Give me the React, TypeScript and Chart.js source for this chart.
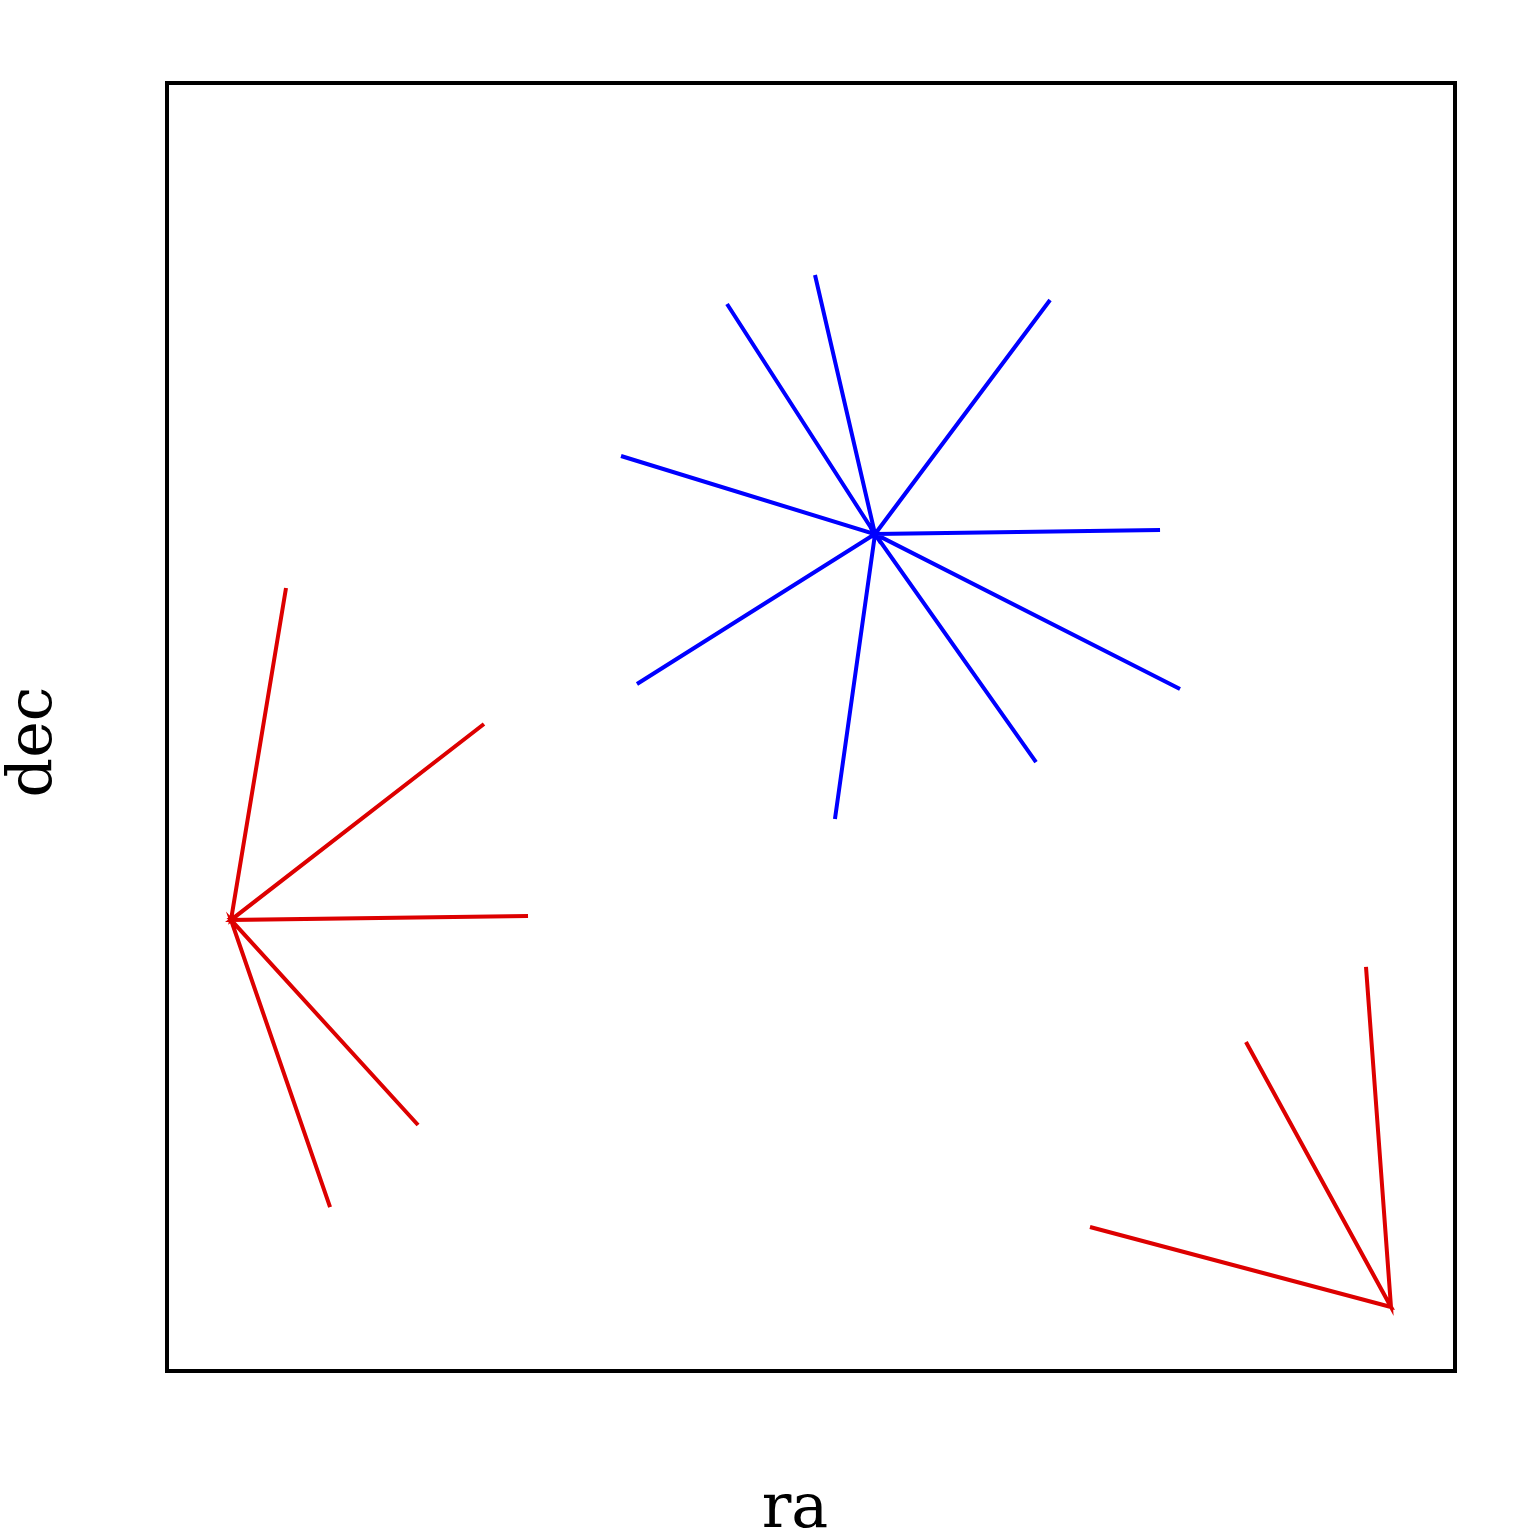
import React, { useEffect, useRef } from "react";
import { Chart, registerables } from "chart.js";

Chart.register(...registerables);

// Star 1 (red, left)
const redACenter = { x: 4.97, y: 35.02 };
const redAEnds = [
  { x: 9.24, y: 60.79 },
  { x: 24.61, y: 50.23 },
  { x: 28.03, y: 35.33 },
  { x: 19.49, y: 19.1 },
  { x: 12.66, y: 12.73 },
];

// Star 2 (blue, centre)
const blueCenter = { x: 54.97, y: 64.98 };
const blueEnds = [
  { x: 50.31, y: 85.09 },
  { x: 43.48, y: 82.84 },
  { x: 68.56, y: 83.15 },
  { x: 35.25, y: 71.04 },
  { x: 77.1, y: 65.3 },
  { x: 78.65, y: 52.95 },
  { x: 67.47, y: 47.28 },
  { x: 51.86, y: 42.86 },
  { x: 36.49, y: 53.34 },
];

// Star 3 (red, lower right)
const redBCenter = { x: 95.03, y: 4.97 };
const redBEnds = [
  { x: 93.09, y: 31.37 },
  { x: 83.77, y: 25.54 },
  { x: 71.66, y: 11.18 },
];

const xTitle = "ra";
const yTitle = "dec";

function starPath(c: { x: number; y: number }, ends: { x: number; y: number }[]) {
  const pts: { x: number; y: number }[] = [];
  ends.forEach((e) => {
    pts.push(c);
    pts.push(e);
  });
  pts.push(c);
  return pts;
}

const framePlugin = {
  id: "frame",
  afterDraw(chart: any) {
    const { ctx, chartArea } = chart;
    ctx.save();
    ctx.strokeStyle = "#000";
    ctx.lineWidth = 4;
    ctx.strokeRect(chartArea.left, chartArea.top, chartArea.right - chartArea.left, chartArea.bottom - chartArea.top);
    ctx.fillStyle = "#000";
    ctx.font = "62px 'DejaVu Serif', serif";
    ctx.textAlign = "center";
    ctx.textBaseline = "alphabetic";
    ctx.fillText(xTitle, 795, 1527);
    ctx.translate(51, 742);
    ctx.rotate(-Math.PI / 2);
    ctx.fillText(yTitle, 0, 0);
    ctx.restore();
  },
};

export default function App() {
  const ref = useRef<HTMLCanvasElement>(null);
  useEffect(() => {
    if (!ref.current) return;
    const mk = (c: any, e: any[], color: string) => ({
      data: starPath(c, e),
      showLine: true,
      borderColor: color,
      backgroundColor: color,
      borderWidth: 4,
      pointRadius: 0,
      tension: 0,
      borderJoinStyle: "miter" as const,
    });
    const chart = new Chart(ref.current, {
      type: "scatter",
      data: {
        datasets: [
          mk(redACenter, redAEnds, "#dd0000"),
          mk(blueCenter, blueEnds, "#0000ff"),
          mk(redBCenter, redBEnds, "#dd0000"),
        ],
      },
      options: {
        animation: false,
        responsive: false,
        layout: { padding: { left: 167, top: 83, right: 81, bottom: 165 } },
        plugins: { legend: { display: false }, tooltip: { enabled: false } },
        scales: {
          x: { type: "linear", min: 0, max: 100, display: false },
          y: { type: "linear", min: 0, max: 100, display: false },
        },
      },
      plugins: [framePlugin],
    });
    return () => chart.destroy();
  }, []);
  return (
    <div style={{ position: "fixed", left: 0, top: 0, width: 1536, height: 1536, background: "#fff" }}>
      <canvas ref={ref} width={1536} height={1536} style={{ width: 1536, height: 1536 }} />
    </div>
  );
}
